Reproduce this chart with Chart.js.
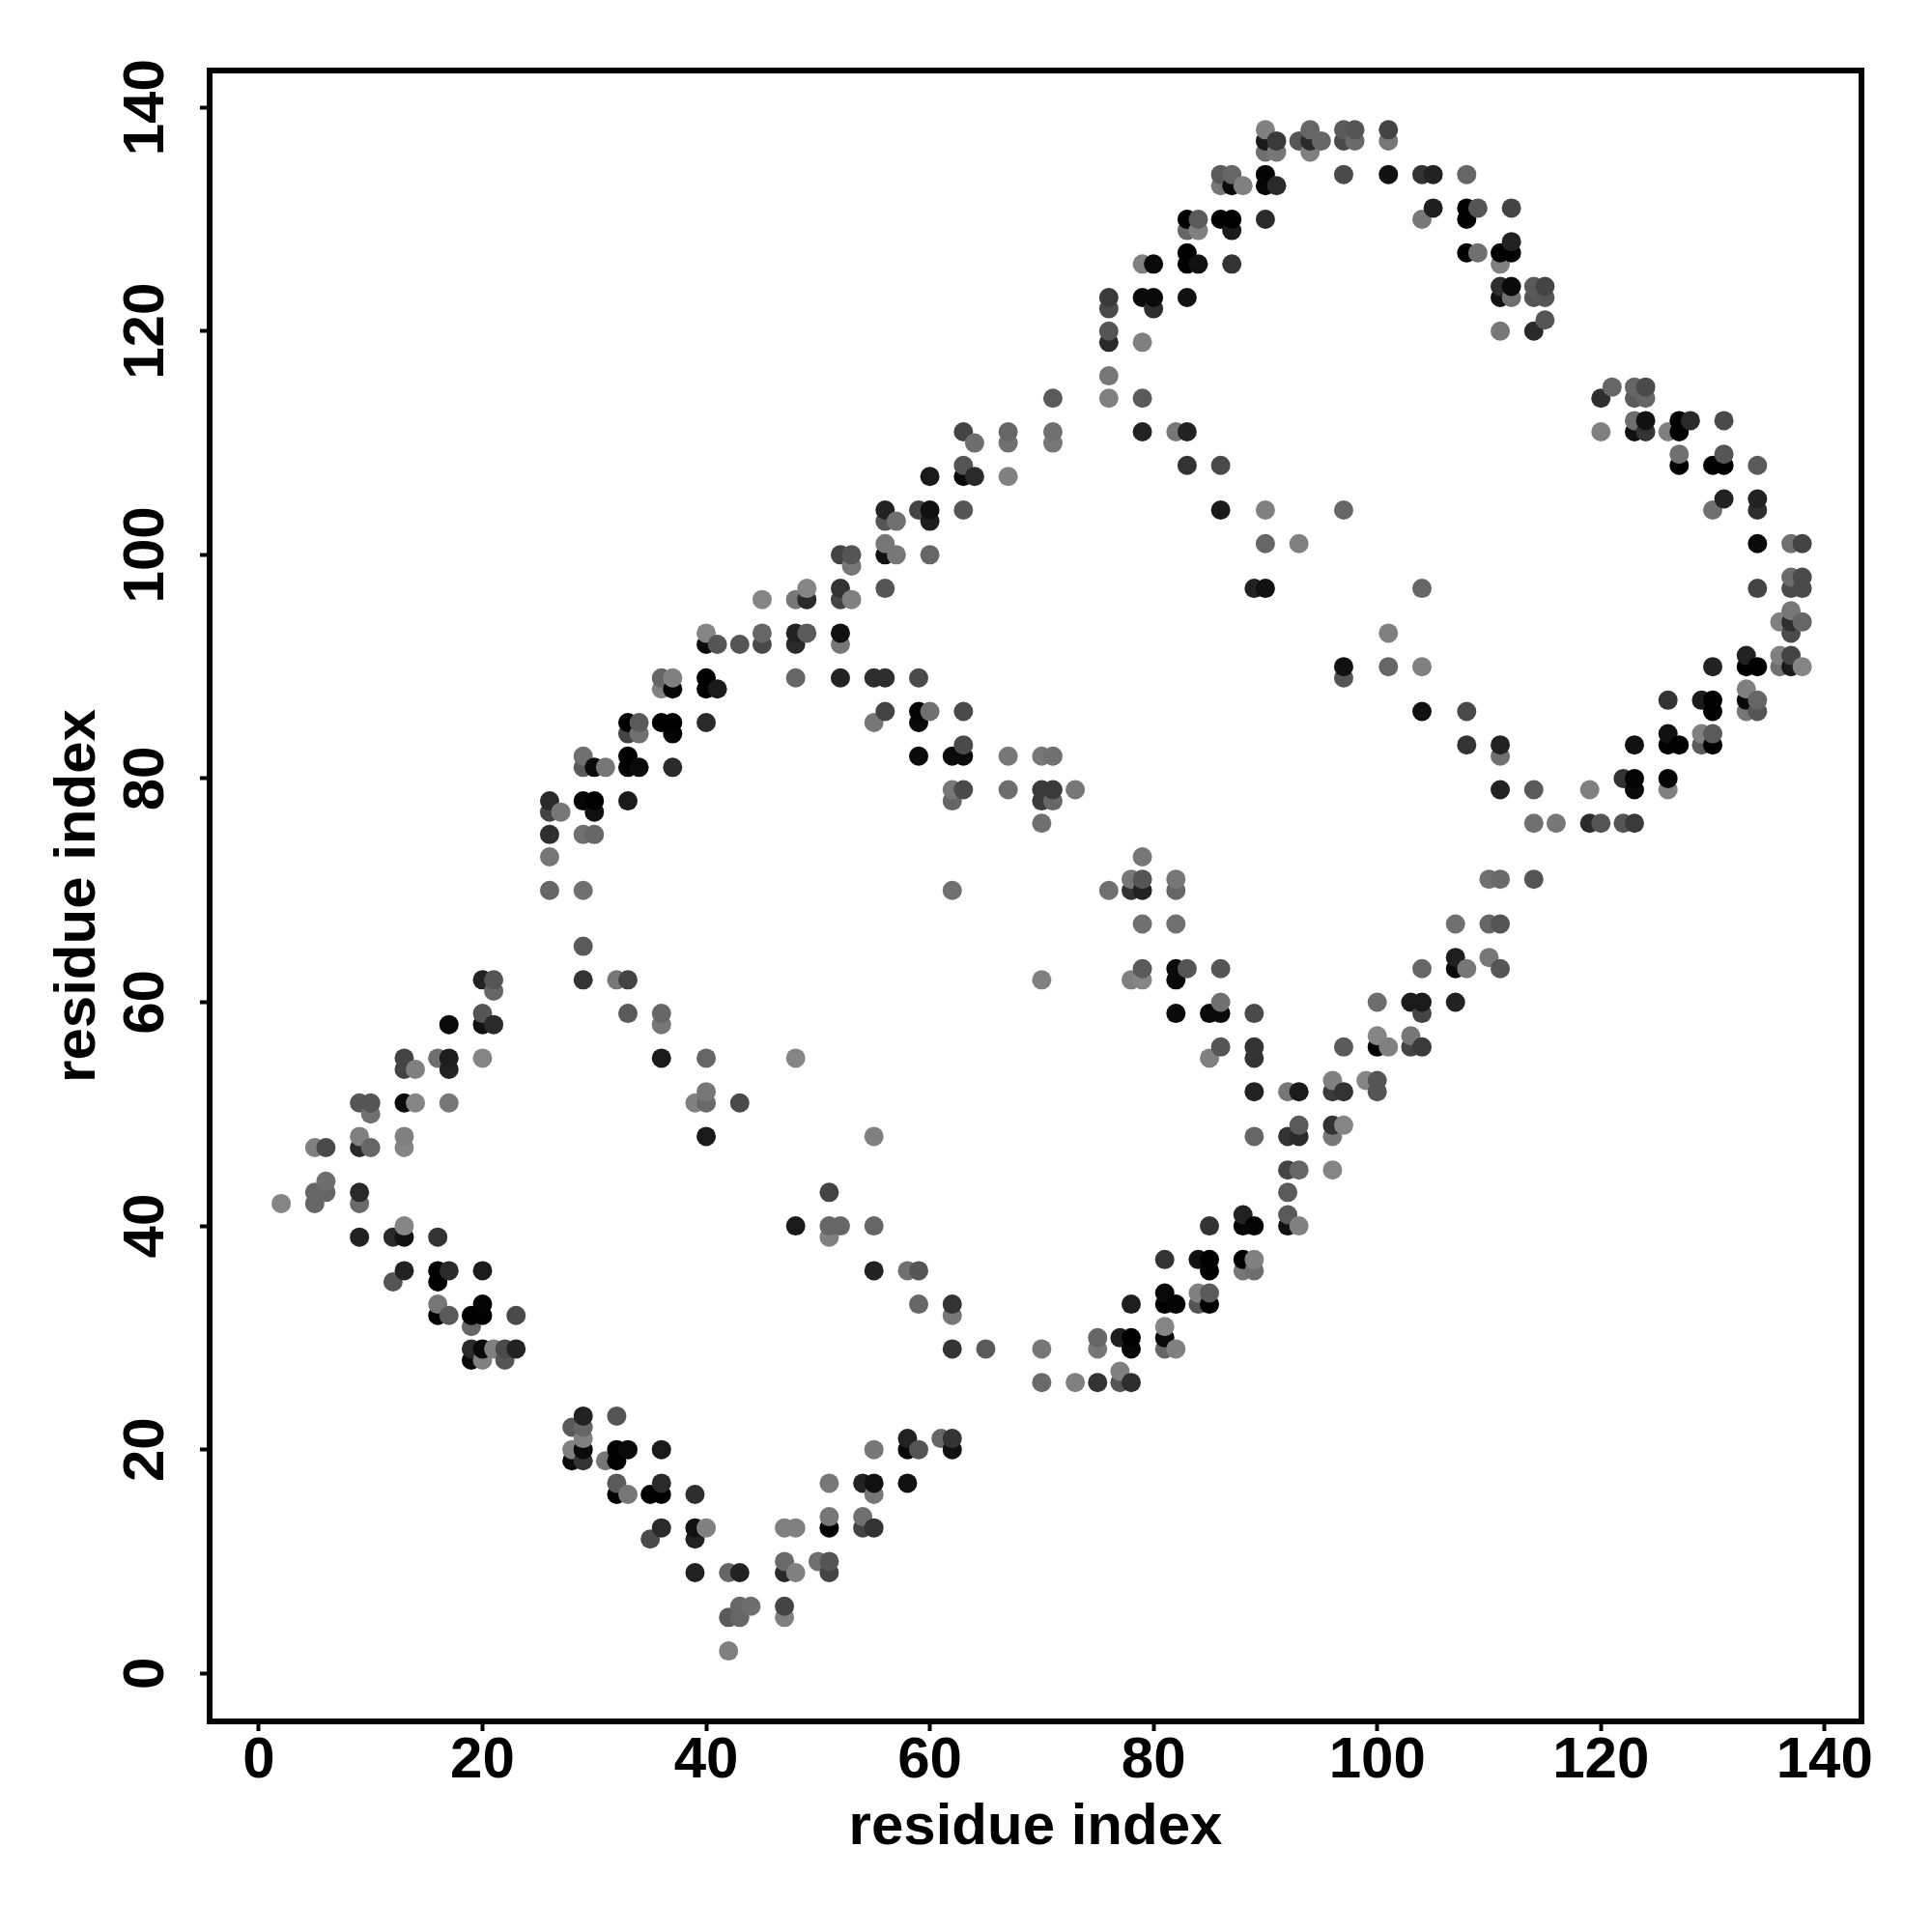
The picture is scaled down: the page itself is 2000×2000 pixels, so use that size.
<!DOCTYPE html>
<html lang="en">
<head>
    <meta charset="UTF-8">
    <title>Contact map</title>
    <script src="https://cdn.jsdelivr.net/npm/chart.js"></script>
    <style>
        body { margin: 0; padding: 0; background: #fff; }
        canvas { display: block; }
    </style>
</head>
<body>
    <canvas id="contactMap" width="2000" height="2000"></canvas>
    <script>
        const tickValues = [0, 20, 40, 60, 80, 100, 120, 140];
        const axisTitle = 'residue index';

        // one line per cluster; the three arrays stay aligned
        const residueX = [
            20,21,21,29,32,33,33,36,36,17,20,20,21,
            13,13,14,16,17,17,20,36,40,48,
            9,10,10,13,14,17,39,40,40,43,40,
            5,6,9,9,10,13,13,6,5,6,5,2,9,9,
            9,12,13,13,16,48,13,12,16,16,17,20,
            16,16,17,20,19,20,19,23,19,19,20,20,21,22,22,23,
            29,32,28,29,29,28,29,28,29,31,32,33,32,36,
            32,32,33,35,36,36,39,36,35,39,39,40,47,48,
            39,42,43,47,47,48,43,44,42,43,47,47,42,
            51,51,51,50,51,51,54,54,55,54,55,55,55,58,58,59,58,61,62,62,
            51,51,52,51,55,55,55,58,59,59,62,62,62,65,70,70,73,75,
            75,75,77,78,78,77,77,78,
            78,81,81,81,82,84,85,84,85,84,85,85,81,81,81,82,
            85,88,88,89,92,92,93,92,93,96,92,88,89,88,89,
            89,92,93,93,96,97,96,89,92,93,96,96,97,99,100,100,
            70,78,79,79,82,82,83,86,85,86,86,82,89,86,85,89,89,97,
            100,100,101,103,103,104,100,103,104,104,107,104,107,108,111,110,107,110,111,107,
            110,111,114,76,78,79,78,79,82,82,79,82,79,
            45,48,49,49,52,52,53,56,40,40,41,43,45,45,48,49,48,52,52,
            36,37,36,37,40,40,41,48,52,55,56,59,33,34,33,34,36,37,37,40,55,56,59,60,59,63,
            29,29,30,31,33,33,34,37,59,62,63,63,67,70,71,
            26,29,30,30,26,27,33,62,63,62,67,70,71,70,71,73,70,
            26,29,30,26,26,29,62,29,
            90,90,91,90,91,93,94,94,95,94,97,98,97,98,101,101,
            97,101,104,105,108,86,87,86,87,88,90,90,91,
            104,105,108,108,109,112,83,84,83,84,86,87,87,90,
            79,80,83,83,84,87,108,109,111,112,112,111,
            76,76,79,80,80,83,111,111,112,112,114,114,115,115,
            76,76,79,111,114,115,76,76,79,71,
            67,67,71,71,79,82,83,64,63,83,86,64,63,63,67,
            86,90,97,63,90,93,59,60,60,56,56,57,60,56,56,57,60,52,53,53,
            121,120,120,123,124,123,124,123,124,123,124,126,127,128,127,131,
            127,127,130,131,131,134,130,131,134,134,134,137,138,137,138,137,138,134,104,
            101,101,104,104,108,108,111,111,111,114,119,114,116,119,120,122,123,122,123,123,
            126,126,123,126,126,127,129,130,129,130,126,129,130,130,130,
            133,133,134,133,133,134,133,134,136,137,137,138,137,136,137,136,137,138,
            97,97,89,90
        ];
        const residueY = [
            62,62,61,62,62,62,59,59,58,58,59,58,58,
            55,54,54,55,55,54,55,55,55,55,
            51,51,50,51,51,51,51,51,52,51,48,
            47,47,47,48,47,48,47,44,43,43,42,42,43,42,
            39,39,39,40,39,40,36,35,36,35,36,36,
            33,32,32,33,32,32,31,32,29,28,29,28,29,29,28,29,
            23,23,22,22,21,20,20,19,19,19,20,20,19,20,
            17,16,16,16,16,17,16,13,12,13,12,13,13,13,
            9,9,9,10,9,9,6,6,5,5,6,5,2,
            17,14,13,10,10,9,14,13,13,17,17,16,20,21,20,20,17,21,21,20,
            43,40,40,39,40,48,36,36,36,33,33,32,29,29,29,26,26,26,
            30,29,30,30,29,27,26,26,
            33,34,33,37,33,37,37,34,34,33,33,36,31,30,29,29,
            40,41,40,40,41,40,40,45,45,45,43,37,37,36,36,
            48,48,49,48,49,49,48,52,52,52,53,52,52,53,53,52,
            62,62,62,63,63,62,63,63,59,59,60,59,59,56,55,56,55,56,
            57,56,56,57,56,56,60,60,60,59,60,63,63,63,63,64,64,67,67,67,
            71,71,71,70,71,73,70,71,71,70,67,67,70,
            96,96,96,97,97,96,96,97,93,92,92,92,93,92,93,93,92,93,92,
            89,89,88,88,89,88,88,89,89,89,89,89,85,85,84,84,85,85,84,85,85,86,86,86,85,86,
            82,81,81,81,82,81,81,81,82,82,82,83,82,82,82,
            78,78,78,77,77,77,78,79,79,78,79,79,79,78,78,79,76,
            75,75,75,73,70,70,70,65,
            138,137,137,136,136,137,137,138,137,136,138,138,137,137,138,137,
            134,134,134,134,134,134,134,133,133,133,134,133,133,
            130,131,131,130,131,131,130,130,129,129,130,130,129,130,
            126,126,127,126,126,126,127,127,127,127,128,126,
            123,122,123,123,122,123,124,123,124,123,124,123,124,123,
            120,119,119,120,120,121,116,114,114,114,
            111,110,111,110,111,111,111,110,111,108,108,107,107,108,107,
            104,104,104,104,101,101,104,104,103,104,103,103,107,101,100,100,100,100,100,99,
            115,114,111,115,115,114,114,112,112,111,111,111,112,112,111,112,
            109,108,108,108,109,108,104,105,105,104,101,101,101,98,98,97,97,97,97,
            93,90,90,86,86,83,83,82,79,79,79,76,76,76,76,76,76,80,80,79,
            80,79,83,84,83,83,84,84,83,83,87,87,87,86,90,
            91,90,90,88,87,87,86,86,94,95,94,94,93,91,91,90,90,90,
            90,89,97,97
        ];
        const greyLevel = [
            34,85,102,51,119,68,90,102,119,10,85,17,42,
            68,68,128,110,30,34,133,26,102,133,
            85,85,112,10,133,119,128,106,119,74,26,
            128,74,42,128,102,128,133,110,102,102,102,133,42,106,
            34,42,17,133,51,26,34,85,0,0,42,26,
            119,0,90,5,0,0,102,74,42,10,10,128,128,74,85,34,
            34,85,90,102,128,128,10,10,51,119,0,10,0,26,
            90,0,119,0,0,42,46,42,74,17,34,128,128,128,
            34,102,34,106,42,128,102,110,90,102,68,128,128,
            119,119,0,112,85,68,112,68,51,34,17,119,119,34,10,85,17,102,51,17,
            68,102,102,128,102,128,34,112,85,102,51,119,51,90,119,106,128,51,
            102,119,30,0,5,128,85,46,
            30,10,0,51,5,17,0,128,90,85,0,0,133,10,102,128,
            51,34,5,5,90,17,128,68,102,133,90,0,128,119,110,
            102,51,90,42,51,133,119,34,119,26,128,58,51,133,85,85,
            128,128,133,90,10,10,85,85,10,10,112,10,74,85,128,51,51,90,
            133,0,128,119,68,58,110,26,26,68,34,102,10,119,85,119,30,102,85,112,
            112,106,85,112,119,119,51,85,119,102,112,112,34,
            133,119,42,133,51,68,128,85,133,10,85,85,102,74,34,90,42,17,119,
            102,128,128,5,0,0,26,102,34,46,46,74,0,90,68,112,0,0,5,42,119,68,5,112,10,74,
            112,90,10,119,0,0,10,42,10,10,10,74,119,119,112,
            42,5,0,17,68,119,26,119,74,102,110,58,58,58,102,119,112,
            46,112,102,119,102,112,112,90,
            128,26,58,112,119,85,42,102,102,128,90,85,74,106,68,119,
            74,17,51,34,102,90,102,119,10,128,5,5,42,
            119,30,0,0,85,68,0,90,102,128,0,0,26,42,
            128,10,0,0,17,51,0,112,0,0,34,128,
            58,74,10,10,46,17,46,17,10,112,90,85,68,85,
            85,42,128,119,42,85,119,128,90,90,
            102,112,112,119,34,119,34,110,68,51,74,42,10,85,128,
            26,128,102,85,102,128,68,17,30,34,85,112,26,119,17,119,102,68,85,119,
            102,46,128,102,74,90,102,110,17,17,51,128,0,42,0,74,
            112,0,0,0,85,90,112,34,34,46,10,112,68,106,74,74,74,68,102,
            128,102,128,17,74,51,34,112,34,90,128,112,119,42,85,85,58,51,5,10,
            5,128,17,17,0,0,128,90,90,0,51,26,0,0,34,
            34,0,0,128,10,102,119,85,128,119,46,102,74,128,68,112,26,133,
            17,85,34,17
        ];

        // the original plots in x then y order, so later points sit on top
        const order = residueX.map((_, i) => i)
            .sort((a, b) => residueX[a] - residueX[b] || residueY[a] - residueY[b]);

        const frame = {
            id: 'frame',
            afterDraw(chart) {
                const { ctx, chartArea: a } = chart;
                ctx.save();
                ctx.strokeStyle = '#000';
                ctx.lineWidth = 6;
                ctx.strokeRect(a.left, a.top, a.right - a.left, a.bottom - a.top);
                ctx.restore();
            }
        };

        const tickFont = { family: 'Liberation Sans', weight: 'bold', size: 60 };

        function useTicks(scale) {
            scale.ticks = tickValues.map(v => ({ value: v }));
        }

        new Chart(document.getElementById('contactMap').getContext('2d'), {
            type: 'scatter',
            data: {
                datasets: [{
                    label: axisTitle,
                    data: order.map(i => ({ x: residueX[i], y: residueY[i] })),
                    pointBackgroundColor: order.map(i => `rgb(${greyLevel[i]},${greyLevel[i]},${greyLevel[i]})`),
                    pointBorderWidth: 0,
                    pointRadius: 10
                }]
            },
            options: {
                responsive: false,
                animation: false,
                layout: { padding: { left: 0, top: 73, right: 73, bottom: 0 } },
                plugins: { legend: { display: false }, tooltip: { enabled: false } },
                scales: {
                    x: {
                        type: 'linear',
                        min: -4.4,
                        max: 143.3,
                        afterBuildTicks: useTicks,
                        afterFit(scale) { scale.height = 218; },
                        border: { display: false },
                        grid: { drawOnChartArea: false, tickLength: 10, tickWidth: 4, tickColor: '#000' },
                        ticks: { color: '#000', font: tickFont, padding: -5, maxRotation: 0 },
                        title: {
                            display: true,
                            text: axisTitle,
                            color: '#000',
                            font: tickFont,
                            padding: { top: 0, bottom: 72 }
                        }
                    },
                    y: {
                        type: 'linear',
                        min: -4.3,
                        max: 143.3,
                        afterBuildTicks: useTicks,
                        afterFit(scale) { scale.width = 217; },
                        border: { display: false },
                        grid: { drawOnChartArea: false, tickLength: 10, tickWidth: 4, tickColor: '#000' },
                        ticks: { color: '#000', font: tickFont, padding: 4, minRotation: 90, maxRotation: 90, crossAlign: 'center' },
                        title: {
                            display: true,
                            text: axisTitle,
                            color: '#000',
                            font: tickFont,
                            padding: { top: 45, bottom: 0 }
                        }
                    }
                }
            },
            plugins: [frame]
        });
    </script>
</body>
</html>
